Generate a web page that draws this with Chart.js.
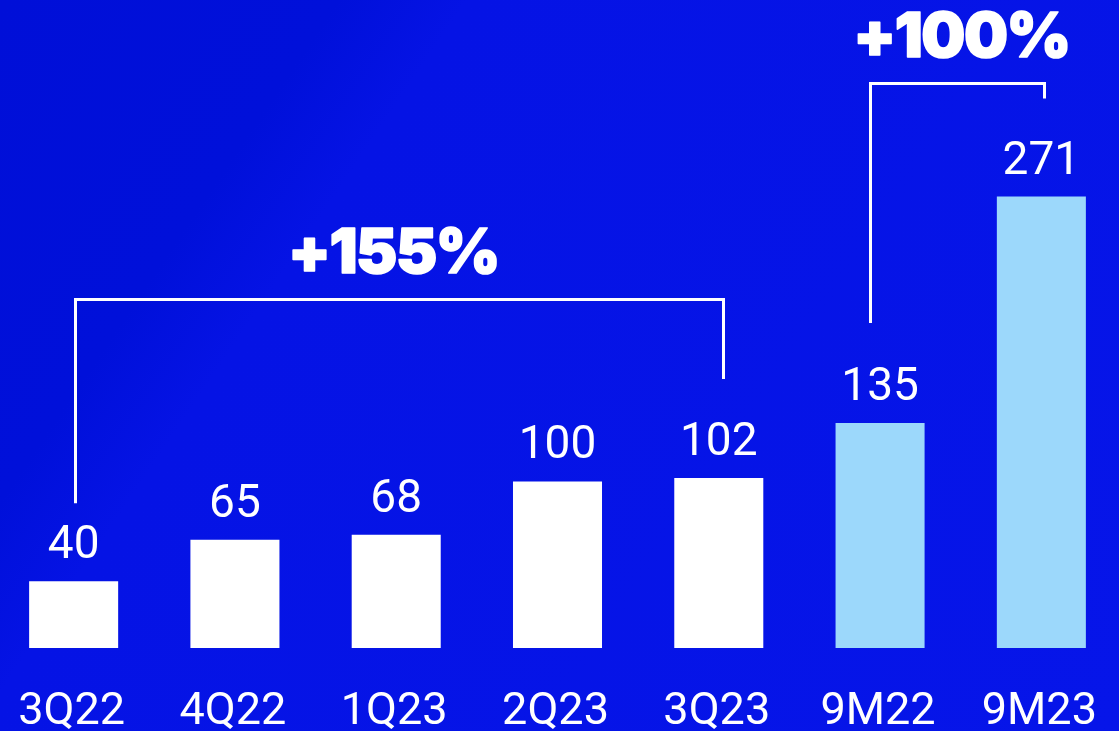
<!DOCTYPE html>
<html>
<head>
<meta charset="utf-8">
<title>Quarterly and nine-month results</title>
<script src="https://cdn.jsdelivr.net/npm/chart.js@4/dist/chart.umd.min.js"></script>
<style>
  html, body {
    margin: 0;
    padding: 0;
    width: 1119px;
    height: 731px;
    overflow: hidden;
  }
  body {
    background: linear-gradient(124deg, #000fd8 0%, #0010da 21%, #0513e5 29%, #0615e9 100%);
  }
  #wrap {
    position: absolute;
    left: -7px;
    top: 0;
    width: 1129px;
    height: 731px;
  }
</style>
</head>
<body>
<div id="wrap"><canvas id="chart"></canvas></div>
<script>
// Periods shown on the x axis
const categories = ['3Q22', '4Q22', '1Q23', '2Q23', '3Q23', '9M22', '9M23'];
// Value for each period
const values = [40, 65, 68, 100, 102, 135, 271];
// Growth callouts: text plus the first and last bar they span
const growthLabels = ['+155%', '+100%'];
const growthFrom = [0, 5];
const growthTo = [4, 6];

const QUARTER_COLOR = '#ffffff';
const NINE_MONTH_COLOR = '#9cd8fb';

// Bracket geometry (y level in axis units, leg gaps in px above the bar tops)
const bracketLayout = [
  { level: 209.5, legGap: [78, 99], legShift: [1.5, 4], textShift: -6 },
  { level: 339, legGap: [100, 98], legShift: [-10, 2.5], textShift: 4 }
];

// Period names under the bars, placed on the category scale
const categoryLabels = {
  id: 'categoryLabels',
  afterDraw(chart) {
    const { ctx } = chart;
    const xScale = chart.scales.x;
    ctx.save();
    ctx.font = '45px Roboto';
    ctx.fillStyle = '#ffffff';
    ctx.textAlign = 'center';
    ctx.textBaseline = 'alphabetic';
    categories.forEach((name, i) => {
      ctx.fillText(name, xScale.getPixelForValue(i) - 2, chart.chartArea.bottom + 76);
    });
    ctx.restore();
  }
};

// Numbers written above each bar
const valueLabels = {
  id: 'valueLabels',
  afterDatasetsDraw(chart) {
    const { ctx } = chart;
    const meta = chart.getDatasetMeta(0);
    ctx.save();
    ctx.font = '46px Roboto';
    ctx.fillStyle = '#ffffff';
    ctx.textAlign = 'center';
    ctx.textBaseline = 'alphabetic';
    meta.data.forEach((bar, i) => {
      ctx.fillText(String(values[i]), bar.x, bar.y - 23);
    });
    ctx.restore();
  }
};

// Brackets joining two bars, with the growth figure on top
const growthBrackets = {
  id: 'growthBrackets',
  afterDatasetsDraw(chart) {
    const { ctx } = chart;
    const meta = chart.getDatasetMeta(0);
    const yScale = chart.scales.y;
    ctx.save();
    ctx.strokeStyle = '#ffffff';
    ctx.fillStyle = '#ffffff';
    ctx.lineCap = 'butt';
    ctx.lineJoin = 'miter';
    growthLabels.forEach((label, k) => {
      const lay = bracketLayout[k];
      const a = meta.data[growthFrom[k]];
      const b = meta.data[growthTo[k]];
      const xa = Math.round(a.x + lay.legShift[0]) + 0.5;
      const xb = Math.round(b.x + lay.legShift[1]) + 0.5;
      const top = Math.round(yScale.getPixelForValue(lay.level)) + 0.5;
      ctx.lineWidth = 3;
      ctx.beginPath();
      ctx.moveTo(xa, a.y - lay.legGap[0]);
      ctx.lineTo(xa, top);
      ctx.lineTo(xb, top);
      ctx.lineTo(xb, b.y - lay.legGap[1]);
      ctx.stroke();

      ctx.font = '900 62px Inter';
      ctx.textAlign = 'center';
      ctx.textBaseline = 'alphabetic';
      if ('letterSpacing' in ctx) ctx.letterSpacing = '-1.5px';
      const tx = (xa + xb) / 2 + lay.textShift;
      const ty = top - 27;
      ctx.lineWidth = 1.6;
      ctx.lineJoin = 'round';
      ctx.fillText(label, tx, ty);
      ctx.strokeText(label, tx, ty);
      ctx.lineJoin = 'miter';
      if ('letterSpacing' in ctx) ctx.letterSpacing = '0px';
    });
    ctx.restore();
  }
};

function draw() {
  new Chart(document.getElementById('chart'), {
    type: 'bar',
    data: {
      labels: categories,
      datasets: [{
        data: values,
        backgroundColor: (c) => categories[c.dataIndex].startsWith('9M') ? NINE_MONTH_COLOR : QUARTER_COLOR,
        borderWidth: 0,
        barPercentage: 0.552,
        categoryPercentage: 1
      }]
    },
    options: {
      responsive: true,
      maintainAspectRatio: false,
      animation: false,
      layout: { padding: { top: 0, left: 0, right: 0, bottom: 83 } },
      plugins: {
        legend: { display: false },
        tooltip: { enabled: false }
      },
      scales: {
        x: {
          display: false
        },
        y: {
          display: false,
          min: 0,
          max: 389
        }
      }
    },
    plugins: [valueLabels, growthBrackets, categoryLabels]
  });
}

Promise.all([
  document.fonts.load('46px Roboto'),
  document.fonts.load('900 62px Inter')
]).then(draw, draw);
</script>
</body>
</html>
